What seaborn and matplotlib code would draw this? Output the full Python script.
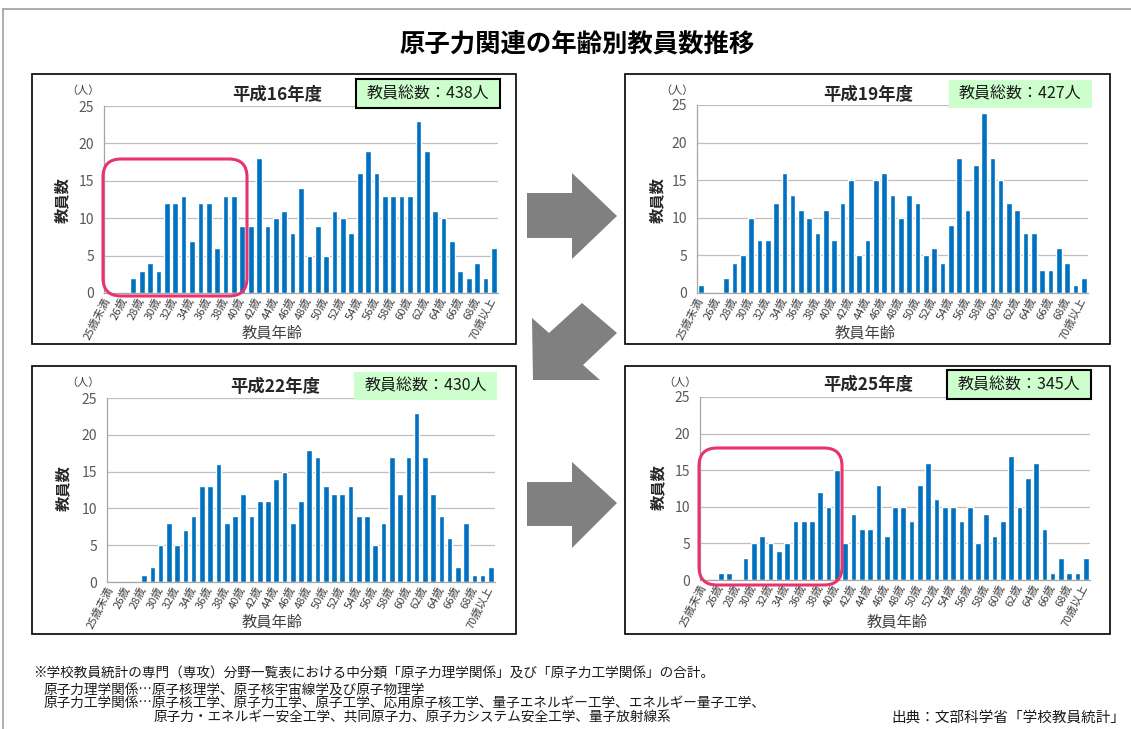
import numpy as np
import pandas as pd
import matplotlib
matplotlib.use("Agg")
import matplotlib.pyplot as plt
import seaborn as sns
from matplotlib.patches import Rectangle, Polygon, FancyBboxPatch
from matplotlib.transforms import IdentityTransform

# ---------------- data ----------------
ages = ["25歳未満", "25歳", "26歳", "27歳", "28歳", "29歳", "30歳", "31歳", "32歳", "33歳",
        "34歳", "35歳", "36歳", "37歳", "38歳", "39歳", "40歳", "41歳", "42歳", "43歳",
        "44歳", "45歳", "46歳", "47歳", "48歳", "49歳", "50歳", "51歳", "52歳", "53歳",
        "54歳", "55歳", "56歳", "57歳", "58歳", "59歳", "60歳", "61歳", "62歳", "63歳",
        "64歳", "65歳", "66歳", "67歳", "68歳", "69歳", "70歳以上"]

h16 = [0, 0, 0, 2, 3, 4, 3, 12, 12, 13, 7, 12, 12, 6, 13, 13, 9, 9, 18, 9, 10, 11, 8, 14,
       5, 9, 5, 11, 10, 8, 16, 19, 16, 13, 13, 13, 13, 23, 19, 11, 10, 7, 3, 2, 4, 2, 6]
h19 = [1, 0, 0, 2, 4, 5, 10, 7, 7, 12, 16, 13, 11, 10, 8, 11, 7, 12, 15, 5, 7, 15, 16, 13,
       10, 13, 12, 5, 6, 4, 9, 18, 11, 17, 24, 18, 15, 12, 11, 8, 8, 3, 3, 6, 4, 1, 2]
h22 = [0, 0, 0, 0, 1, 2, 5, 8, 5, 7, 9, 13, 13, 16, 8, 9, 12, 9, 11, 11, 14, 15, 8, 11,
       18, 17, 13, 12, 12, 13, 9, 9, 5, 8, 17, 12, 17, 23, 17, 12, 9, 6, 2, 8, 1, 1, 2]
h25 = [0, 0, 1, 1, 0, 3, 5, 6, 5, 4, 5, 8, 8, 8, 12, 10, 15, 5, 9, 7, 7, 13, 6, 10,
       10, 8, 13, 16, 11, 10, 10, 8, 10, 5, 9, 6, 8, 17, 10, 14, 16, 7, 1, 3, 1, 1, 3]

titles = ["平成16年度", "平成19年度", "平成22年度", "平成25年度"]
totals = [438, 427, 430, 345]
yticks = [0, 5, 10, 15, 20, 25]

main_title = "原子力関連の年齢別教員数推移"
notes = [
    "※学校教員統計の専門（専攻）分野一覧表における中分類「原子力理学関係」及び「原子力工学関係」の合計。",
    "原子力理学関係…原子核理学、原子核宇宙線学及び原子物理学",
    "原子力工学関係…原子核工学、原子力工学、原子工学、応用原子核工学、量子エネルギー工学、エネルギー量子工学、",
    "原子力・エネルギー安全工学、共同原子力、原子力システム安全工学、量子放射線系",
]
source = "出典：文部科学省「学校教員統計」"

# ---------------- style ----------------
sns.set_style("white")
plt.rcParams["font.family"] = ["Noto Sans CJK JP", "DejaVu Sans"]

W, H = 1131, 729
fig = plt.figure(figsize=(W / 100, H / 100), dpi=100)
fig.patch.set_facecolor("white")
ID = IdentityTransform()


def fx(x):
    return x / W


def fy(y):
    return 1 - y / H


def rect(x0, y0, x1, y1, **kw):
    p = Rectangle((x0, H - y1), x1 - x0, y1 - y0, transform=ID, **kw)
    fig.add_artist(p)
    return p


def poly(pts, **kw):
    p = Polygon([(x, H - y) for x, y in pts], closed=True, transform=ID, **kw)
    fig.add_artist(p)
    return p


# outer border
fig.add_artist(plt.Line2D([3, W], [H - 9, H - 9], transform=ID, color="#A0A0A0", lw=1.2))
fig.add_artist(plt.Line2D([3, 3], [0, H - 9], transform=ID, color="#A0A0A0", lw=1.2))

fig.text(fx(577), fy(44), main_title, ha="center", va="center",
         fontsize=18.3, fontweight="bold", color="black")

layout = [
    dict(frame=(32, 74, 516, 344), ax=(104, 106, 498, 293), title=(277, 95),
         box=(356, 79, 500, 108), border=True, xl=(272, 333), yl=(62, 200), unit=(83, 91)),
    dict(frame=(625, 74, 1110, 344), ax=(697, 105, 1088, 293), title=(868, 95),
         box=(949, 80, 1092, 108), border=False, xl=(865, 333), yl=(657, 200), unit=(677, 91)),
    dict(frame=(32, 366, 516, 634), ax=(107, 398, 495, 582), title=(275, 387),
         box=(354, 372, 497, 400), border=False, xl=(272, 622), yl=(63, 488), unit=(83, 383)),
    dict(frame=(625, 366, 1110, 634), ax=(700, 397, 1090, 580), title=(868, 385),
         box=(947, 370, 1091, 399), border=True, xl=(897, 622), yl=(658, 487), unit=(680, 383)),
]
series = [h16, h19, h22, h25]

for i, (lay, vals) in enumerate(zip(layout, series)):
    x0, y0, x1, y1 = lay["frame"]
    rect(x0, y0, x1, y1, fill=False, ec="black", lw=1.2)

    a0, b0, a1, b1 = lay["ax"]
    ax = fig.add_axes([a0 / W, 1 - b1 / H, (a1 - a0) / W, (b1 - b0) / H])
    df = pd.DataFrame({"age": ages, "n": vals})
    sns.barplot(data=df, x="age", y="n", order=ages, color="#0070C0", saturation=1,
                width=0.68, ax=ax)
    ax.set_xlim(-0.5, len(ages) - 0.5)
    ax.set_ylim(0, 25)
    ax.set_yticks(yticks)
    ax.set_yticklabels([str(t) for t in yticks])
    ax.set_xticks(range(0, len(ages), 2))
    ax.set_xticklabels(ages[::2], rotation=63, ha="right", va="center",
                       rotation_mode="anchor", fontsize=8, color="#404040")
    ax.tick_params(axis="both", length=0)
    ax.tick_params(axis="y", pad=7, labelsize=10, labelcolor="#595959")
    ax.tick_params(axis="x", pad=4)
    ax.set_xlabel("")
    ax.set_ylabel("")
    ax.grid(axis="y", color="#BFBFBF", lw=0.9)
    ax.grid(axis="x", visible=False)
    ax.set_axisbelow(True)
    for s in ["top", "right"]:
        ax.spines[s].set_visible(False)
    for s in ["left", "bottom"]:
        ax.spines[s].set_color("#A6A6A6")
        ax.spines[s].set_linewidth(0.9)
    ax.set_facecolor("white")

    tx, ty = lay["title"]
    fig.text(fx(tx), fy(ty), titles[i], ha="center", va="center",
             fontsize=12.5, fontweight="bold")
    bx0, by0, bx1, by1 = lay["box"]
    if lay["border"]:
        rect(bx0, by0, bx1, by1, fc="#CCFFCC", ec="black", lw=1.5)
    else:
        rect(bx0, by0, bx1, by1, fc="#CCFFCC", ec="none")
    fig.text(fx((bx0 + bx1) / 2), fy((by0 + by1) / 2), f"教員総数：{totals[i]}人",
             ha="center", va="center", fontsize=11.5, color="#1a1a1a")
    ux, uy = lay["unit"]
    fig.text(fx(ux), fy(uy), "（人）", ha="center", va="center", fontsize=8,
             color="#404040")
    lx, ly = lay["xl"]
    fig.text(fx(lx), fy(ly), "教員年齢", ha="center", va="center", fontsize=11,
             color="#404040")
    vx, vy = lay["yl"]
    fig.text(fx(vx), fy(vy), "教員数", ha="center", va="center", fontsize=11,
             fontweight="bold", rotation=90)

# highlight rounded rectangles
for (x0, y0, x1, y1) in [(103, 159, 247, 296), (699, 448, 842, 585)]:
    fig.add_artist(FancyBboxPatch((x0, H - y1), x1 - x0, y1 - y0,
                                  boxstyle="round,pad=0,rounding_size=18",
                                  transform=ID, fill=False, ec="#E8336F", lw=2.2,
                                  zorder=5))

# arrows
arrow_c = "#808080"
poly([(527, 193), (572, 193), (572, 173), (617, 216), (572, 259), (572, 238), (527, 238)],
     fc=arrow_c, ec="none")
poly([(533, 380), (532, 318), (549, 333), (582, 303), (617, 333), (583, 365), (600, 380)],
     fc=arrow_c, ec="none")
poly([(527, 482), (572, 482), (572, 462), (617, 503), (572, 548), (572, 526), (527, 526)],
     fc=arrow_c, ec="none")

# footnotes
note_pos = [(33, 673), (43, 690), (43, 704), (153, 718)]
for (nx, ny), txt in zip(note_pos, notes):
    fig.text(fx(nx), fy(ny), txt, ha="left", va="center", fontsize=9.8, color="#1a1a1a")
fig.text(fx(1125), fy(718), source, ha="right", va="center", fontsize=10.5, color="#1a1a1a")

fig.savefig("out.png", dpi=100)
